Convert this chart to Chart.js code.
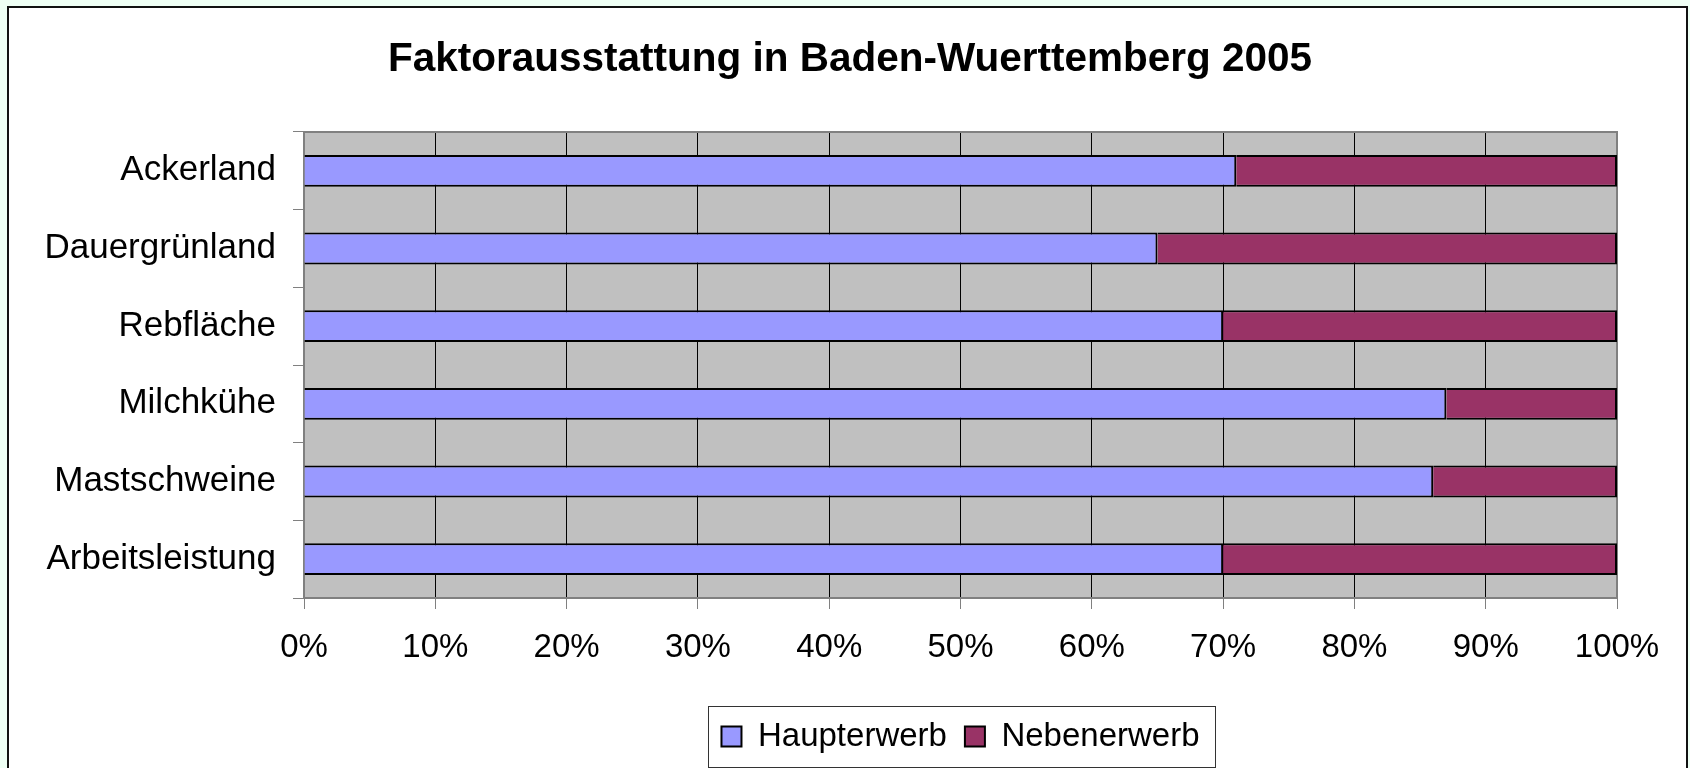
<!DOCTYPE html>
<html><head><meta charset="utf-8">
<script src="https://cdn.jsdelivr.net/npm/chart.js@4.4.1/dist/chart.umd.min.js"></script>
<style>html,body{margin:0;padding:0;background:#eefff4;overflow:hidden}canvas{display:block}</style>
</head><body>
<canvas id="c" width="1690" height="768"></canvas>
<script>
const chartTitle = 'Faktorausstattung in Baden-Wuerttemberg 2005';
const categories = ['Ackerland', 'Dauergrünland', 'Rebfläche', 'Milchkühe', 'Mastschweine', 'Arbeitsleistung'];
const haupterwerb = [71, 65, 70, 87, 86, 70];
const nebenerwerb = [29, 35, 30, 13, 14, 30];
const seriesNames = ['Haupterwerb', 'Nebenerwerb'];
const xTickLabels = ['0%', '10%', '20%', '30%', '40%', '50%', '60%', '70%', '80%', '90%', '100%'];

const FONT = "'Liberation Sans', Arial, sans-serif";

const framePlugin = {
  id: 'frame',
  beforeDraw(chart) {
    const {ctx, chartArea: a, width, height} = chart;
    ctx.save();
    ctx.fillStyle = '#eefff4';
    ctx.fillRect(0, 0, width, height);
    ctx.fillStyle = '#ffffff';
    ctx.fillRect(8, 7, 1679, 800);
    ctx.strokeStyle = '#111111';
    ctx.lineWidth = 2;
    ctx.strokeRect(8, 7, 1679, 800);
    ctx.fillStyle = '#c0c0c0';
    ctx.fillRect(a.left, a.top, a.right - a.left, a.bottom - a.top);
    ctx.restore();
  },
  beforeDatasetsDraw(chart) {
    const {ctx, chartArea: a} = chart;
    ctx.save();
    ctx.strokeStyle = '#808080';
    ctx.lineWidth = 2;
    ctx.beginPath();
    ctx.moveTo(a.left, a.top);
    ctx.lineTo(a.right, a.top);
    ctx.lineTo(a.right, a.bottom);
    ctx.stroke();
    ctx.restore();
  },
  afterDraw(chart) {
    const {ctx} = chart;
    const hb = chart.legend.legendHitBoxes;
    if (!hb || !hb.length) return;
    const l = Math.min(...hb.map(h => h.left)) - 13;
    const r = Math.max(...hb.map(h => h.left + h.width)) + 16;
    const t = hb[0].top - 14.5;
    const b = hb[0].top + hb[0].height + 13.5;
    ctx.save();
    ctx.strokeStyle = '#333333';
    ctx.lineWidth = 1;
    ctx.strokeRect(Math.round(l) + 0.5, Math.round(t) + 0.5, Math.round(r - l), Math.round(b - t));
    ctx.restore();
  }
};

new Chart(document.getElementById('c'), {
  type: 'bar',
  data: {
    labels: categories,
    datasets: [
      {label: seriesNames[0], data: haupterwerb, backgroundColor: '#9999ff', borderColor: '#000000', borderWidth: 2},
      {label: seriesNames[1], data: nebenerwerb, backgroundColor: '#993366', borderColor: '#000000', borderWidth: 2}
    ]
  },
  options: {
    indexAxis: 'y',
    responsive: false,
    animation: false,
    devicePixelRatio: 1,
    barPercentage: 0.41,
    categoryPercentage: 1,
    layout: {padding: {left: 10, right: 0, top: 0, bottom: 5}},
    scales: {
      x: {
        stacked: true,
        min: 0, max: 100,
        ticks: {stepSize: 10, padding: 19, color: '#000', font: {family: FONT, size: 33},
          callback: (v, i) => xTickLabels[i], maxRotation: 0, autoSkip: false},
        grid: {
          color: (c) => (c.index === 0 || c.index === 10) ? '#808080' : '#000000',
          lineWidth: 1, tickLength: 11, tickColor: '#808080', drawOnChartArea: true
        },
        border: {color: '#808080', width: 2},
        afterFit(s) { s.height = 104; s.paddingLeft = 0; s.paddingRight = 73; }
      },
      y: {
        stacked: true,
        ticks: {padding: 17, color: '#000', font: {family: FONT, size: 35}},
        grid: {drawOnChartArea: false, tickLength: 11, color: '#808080', tickColor: '#808080', offset: true},
        border: {color: '#808080', width: 2},
        afterFit(s) { s.width = 294; s.paddingTop = 0; s.paddingBottom = 0; }
      }
    },
    plugins: {
      title: {display: true, text: chartTitle, color: '#000',
        font: {family: FONT, size: 40.5, weight: 'bold'}, padding: {top: 36, bottom: 47.4}},
      legend: {position: 'bottom', fullSize: false,
        labels: {boxWidth: 20, boxHeight: 20, padding: 18, color: '#000', font: {family: FONT, size: 33}}},
      tooltip: {enabled: false}
    }
  },
  plugins: [framePlugin]
});
</script>
</body></html>
